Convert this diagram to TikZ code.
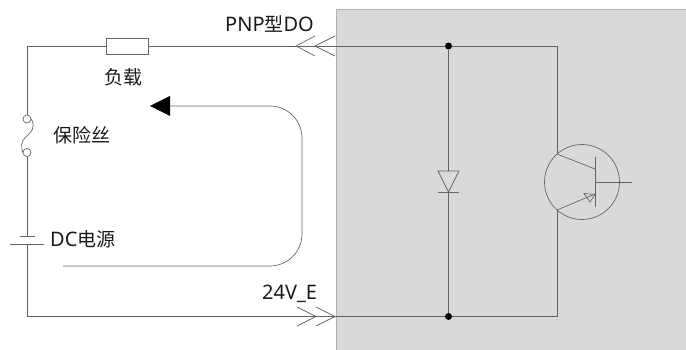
\documentclass[tikz,border=0pt]{standalone}
\usepackage{fontspec}
\setmainfont{Noto Sans}
\newfontfamily\cjk{Noto Sans CJK SC}
\usetikzlibrary{arrows.meta}
\begin{document}
\begin{tikzpicture}[x=1pt,y=-1pt,
  wire/.style={draw=black!62,line width=0.9pt},
  thin wire/.style={draw=black!60,line width=0.7pt},
  label/.style={font=\fontsize{20}{22}\selectfont,text=black!90,inner sep=0pt},
  cjklabel/.style={font=\fontsize{19}{21}\selectfont\cjk,text=black!90,inner sep=0pt},
  junction/.style={circle,fill=black,inner sep=0pt,minimum size=7pt},
  fusepin/.style={circle,draw=black!60,line width=0.7pt,fill=none,inner sep=0pt,minimum size=8pt},
  loadbox/.style={draw=black!60,line width=0.7pt,fill=white,inner sep=0pt,minimum width=42pt,minimum height=16pt}]
\useasboundingbox (0,0) rectangle (686,350);
\fill[black!15] (336,10) rectangle (686,350);
\draw[black!30,line width=1pt] (336,350) -- (336,10) -- (686,10);

% coordinates
\coordinate (tl) at (27,46);
\coordinate (bl) at (27,316.5);
\coordinate (cc) at (557,46);
\coordinate (ce) at (557,316.5);
\coordinate (batA) at (27,236);
\coordinate (batB) at (27,244);
\coordinate (collector) at (557,154);
\coordinate (emitter) at (557,210);
\coordinate (dtop) at (448.5,171);
\coordinate (dtip) at (448.5,192);
\coordinate (bar1) at (595,157);
\coordinate (bar2) at (595,207);
\coordinate (barc) at (595,169);
\coordinate (bare) at (595,194);
\coordinate (barb) at (595,182);
\coordinate (base) at (632,182);

\node[loadbox] (load) at (127,46) {};
\node[fusepin] (f1) at (27,119) {};
\node[fusepin] (f2) at (27,152.5) {};
\node[junction] (j1) at (448.5,46) {};
\node[junction] (j2) at (448.5,316.5) {};

% main wires
\draw[wire] (tl) -- (load.west);
\draw[wire] (load.east) -- (j1) -- (cc) -- (collector);
\draw[wire] (tl) -- (f1.north);
\draw[wire] (f2.south) -- (batA);
\draw[wire] (batB) -- (bl) -- (j2) -- (ce) -- (emitter);
\draw[wire] (j1) -- (dtop);
\draw[wire] (dtip) -- (j2);

% fuse
\draw[thin wire] (f1.east) .. controls (36,128) and (31,132) .. (27,136) .. controls (19,143) and (22,147) .. (f2.west);

% battery
\draw[thin wire] (20,236) -- (35,236);
\draw[thin wire] (10,244) -- (44,244);

% chevrons
\draw[thin wire] (315,36) -- (296,46) -- (315,56);
\draw[thin wire] (335,36) -- (315,46) -- (335,56);
\draw[thin wire] (297,307) -- (316,316.5) -- (297,326);
\draw[thin wire] (316,307) -- (335,316.5) -- (316,326);

% current loop
\draw[thin wire] (63,266) -- (270,266) arc[start angle=90,end angle=0,radius=32] -- (302,138) arc[start angle=0,end angle=-90,radius=32] -- (168,106);
\fill[black] (150,106) -- (170,96) -- (170,116) -- cycle;

% diode
\draw[thin wire] (438,171) -- (459,171) -- (dtip) -- cycle;
\draw[thin wire] (438,192) -- (459,192);

% transistor
\draw[thin wire] (582,182) circle[radius=37.5];
\draw[wire] (bar1) -- (bar2);
\draw[wire] (barb) -- (base);
\draw[thin wire] (collector) -- (barc);
\draw[thin wire] (emitter) -- (bare);
\draw[thin wire] (595,194.5) -- (584,193.5) -- (590,202) -- cycle;

% labels
\node[label,anchor=base west] (l1) at (225,32) {PNP{\fontsize{19}{21}\selectfont\cjk 型}DO};
\node[cjklabel,anchor=base west] (l2) at (104,85) {负载};
\node[cjklabel,anchor=base west] (l3) at (53,143) {保险丝};
\node[label,anchor=base west] (l4) at (50,246) {DC{\fontsize{19}{21}\selectfont\cjk 电源}};
\node[label,anchor=base west] (l5) at (262,299) {24V\_E};
\end{tikzpicture}
\end{document}
